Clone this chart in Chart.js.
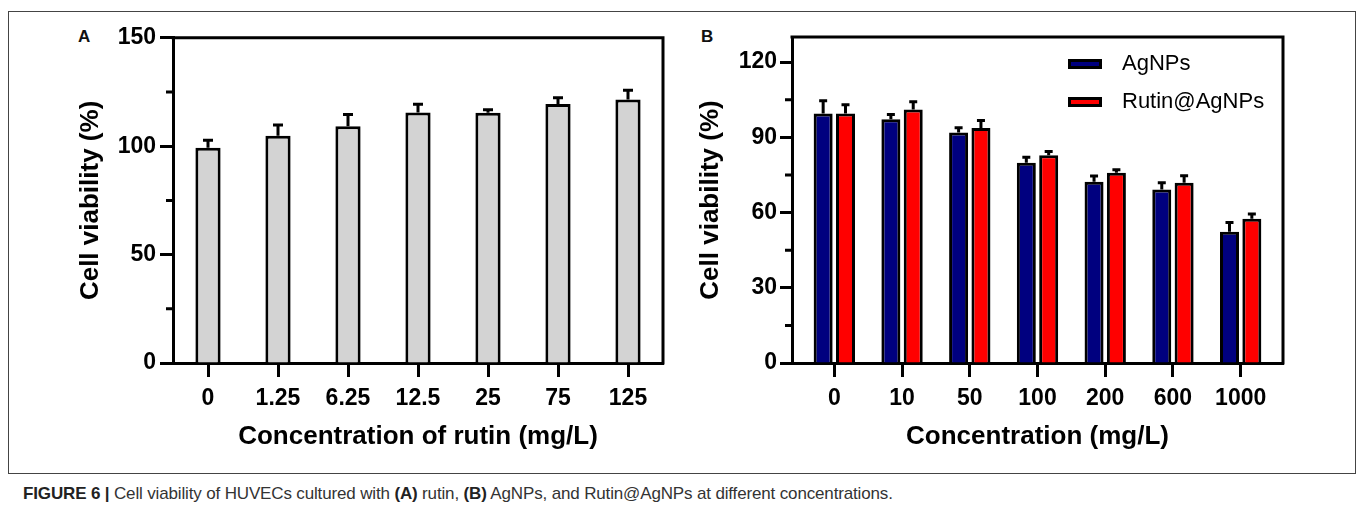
<!DOCTYPE html>
<html>
<head>
<meta charset="utf-8">
<script src="https://cdn.jsdelivr.net/npm/chart.js@4.4.1/dist/chart.umd.min.js"></script>
<style>
  body { margin: 0; background: #fff; width: 1357px; height: 513px; position: relative; overflow: hidden;
         font-family: 'Liberation Sans', Arial, sans-serif; }
  #frame { position: absolute; left: 8px; top: 11px; width: 1346px; height: 461px; border: 1px solid #444; }
  .wrap { position: absolute; }
  #wa { left: 60px; top: 20px; width: 620px; height: 440px; }
  #wb { left: 690px; top: 20px; width: 610px; height: 440px; }
  .lab { position: absolute; font-weight: bold; font-size: 17px; color: #111; }
  #caption { position: absolute; left: 23px; top: 484px; font-size: 17px; letter-spacing: -0.15px; color: #333; white-space: nowrap; }
  #caption b { color: #222; }
</style>
</head>
<body>
<div id="frame"></div>
<div class="lab" style="left:78px;top:27px;">A</div>
<div class="lab" style="left:701px;top:27px;">B</div>
<div class="wrap" id="wa"><canvas id="chartA" width="620" height="440"></canvas></div>
<div class="wrap" id="wb"><canvas id="chartB" width="610" height="440"></canvas></div>
<div id="caption"><b>FIGURE 6 |</b> Cell viability of HUVECs cultured with <b>(A)</b> rutin, <b>(B)</b> AgNPs, and Rutin@AgNPs at different concentrations.</div>

<script>
// panel A
const concA = ['0', '1.25', '6.25', '12.5', '25', '75', '125'];
const rutinMean = [99.3, 104.8, 109.2, 115.5, 115.4, 119.5, 121.5];
const rutinErr = [3.5, 5.0, 5.4, 3.8, 1.4, 2.8, 4.3];
const yTicksA = [0, 50, 100, 150];

// panel B
const concB = ['0', '10', '50', '100', '200', '600', '1000'];
const agMean = [99.5, 97.2, 91.9, 79.9, 72.3, 69.2, 52.3];
const agErr = [5.1, 1.9, 1.9, 2.1, 2.3, 2.7, 3.7];
const rutinAgMean = [99.5, 101.1, 93.7, 82.8, 75.9, 71.9, 57.5];
const rutinAgErr = [3.5, 3.1, 3.0, 1.5, 1.2, 2.8, 1.9];
const yTicksB = [0, 30, 60, 90, 120];

Chart.defaults.font.family = "'Liberation Sans', Arial, sans-serif";
Chart.defaults.color = '#000';

// upper error bars drawn on top of each bar
const errorBars = {
  id: 'errorBars',
  afterDatasetsDraw(chart, args, opts) {
    const ctx = chart.ctx;
    const y = chart.scales.y;
    ctx.save();
    ctx.strokeStyle = '#000';
    ctx.lineWidth = 3;
    chart.data.datasets.forEach((ds, di) => {
      const meta = chart.getDatasetMeta(di);
      meta.data.forEach((bar, i) => {
        const v = meta.controller.getParsed(i).y;
        const top = y.getPixelForValue(v + ds.errors[i]);
        ctx.beginPath();
        ctx.moveTo(bar.x, bar.y);
        ctx.lineTo(bar.x, top);
        ctx.moveTo(bar.x - opts.cap / 2, top);
        ctx.lineTo(bar.x + opts.cap / 2, top);
        ctx.stroke();
      });
    });
    ctx.restore();
  }
};

// top/right frame of the plot box + short minor ticks on the y axis
const axisFrame = {
  id: 'axisFrame',
  afterDraw(chart, args, opts) {
    const {ctx, chartArea: a} = chart;
    const y = chart.scales.y;
    ctx.save();
    ctx.strokeStyle = '#000';
    ctx.lineWidth = 3;
    ctx.beginPath();
    ctx.moveTo(a.left - 1.5, a.top);
    ctx.lineTo(a.right, a.top);
    ctx.lineTo(a.right, a.bottom + 1.5);
    const t = y.ticks.map(k => k.value);
    for (let i = 0; i < t.length - 1; i++) {
      const py = y.getPixelForValue((t[i] + t[i + 1]) / 2);
      ctx.moveTo(a.left - opts.minorLen, py);
      ctx.lineTo(a.left, py);
    }
    ctx.stroke();
    ctx.restore();
  }
};

const insideLegend = {
  id: 'insideLegend',
  afterDraw(chart, args, opts) {
    if (!opts.show) return;
    const {ctx, chartArea: a} = chart;
    ctx.save();
    chart.data.datasets.forEach((ds, i) => {
      const x = a.right - opts.right;
      const y = a.top + opts.top + i * opts.gap;
      ctx.fillStyle = ds.backgroundColor;
      ctx.fillRect(x, y, opts.boxW, opts.boxH);
      ctx.strokeStyle = '#000';
      ctx.lineWidth = 3;
      ctx.strokeRect(x + 1.5, y + 1.5, opts.boxW - 3, opts.boxH - 3);
      ctx.fillStyle = '#000';
      ctx.font = "22px 'Liberation Sans', Arial, sans-serif";
      ctx.textBaseline = 'middle';
      ctx.fillText(ds.label, x + opts.textGap, y + opts.boxH / 2);
    });
    ctx.restore();
  }
};

function axisStyle(tickLen) {
  return {
    grid: { offset: false, drawOnChartArea: false, tickLength: tickLen, tickWidth: 3, tickColor: '#000', color: '#000' },
    border: { display: true, color: '#000', width: 3 }
  };
}

new Chart(document.getElementById('chartA'), {
  type: 'bar',
  data: {
    labels: concA,
    datasets: [{
      label: 'Rutin',
      data: rutinMean,
      errors: rutinErr,
      backgroundColor: '#d3d3d3',
      borderColor: '#000',
      borderWidth: 3,
      categoryPercentage: 1,
      barPercentage: 0.36
    }]
  },
  options: {
    responsive: false,
    animation: false,
    layout: { padding: { left: 0, top: 17, right: 17, bottom: 0 } },
    plugins: {
      legend: { display: false },
      tooltip: { enabled: false },
      errorBars: { cap: 10 },
      axisFrame: { minorLen: 7 },
      insideLegend: { show: false }
    },
    scales: {
      x: {
        ...axisStyle(14),
        offset: true,
        ticks: { font: { size: 23, weight: 'bold' }, padding: 8, maxRotation: 0, autoSkip: false },
        title: { display: true, text: 'Concentration of rutin (mg/L)', font: { size: 26, weight: 'bold' }, padding: { top: 0, bottom: 8 } },
        afterFit(s) { s.height = 97; }
      },
      y: {
        ...axisStyle(13),
        min: 0, max: 150,
        afterBuildTicks(s) { s.ticks = yTicksA.map(v => ({ value: v })); },
        ticks: { font: { size: 23, weight: 'bold' }, padding: 4 },
        title: { display: true, text: 'Cell viability (%)', font: { size: 26, weight: 'bold' }, padding: { top: 15, bottom: 0 } },
        afterFit(s) { s.width = 113; }
      }
    }
  },
  plugins: [errorBars, axisFrame, insideLegend]
});

new Chart(document.getElementById('chartB'), {
  type: 'bar',
  data: {
    datasets: [{
      label: 'AgNPs',
      data: agMean.map((v, i) => ({ x: i, y: v })),
      errors: agErr,
      backgroundColor: '#00007f',
      borderColor: '#000',
      borderWidth: 3,
      categoryPercentage: 0.66,
      barPercentage: 0.85
    }, {
      label: 'Rutin@AgNPs',
      data: rutinAgMean.map((v, i) => ({ x: i, y: v })),
      errors: rutinAgErr,
      backgroundColor: '#ff0000',
      borderColor: '#000',
      borderWidth: 3,
      categoryPercentage: 0.66,
      barPercentage: 0.85
    }]
  },
  options: {
    responsive: false,
    animation: false,
    layout: { padding: { left: 0, top: 17, right: 17, bottom: 0 } },
    plugins: {
      legend: { display: false },
      tooltip: { enabled: false },
      errorBars: { cap: 8 },
      axisFrame: { minorLen: 7 },
      insideLegend: { show: true, right: 215, top: 22, gap: 38, boxW: 34, boxH: 10, textGap: 54 }
    },
    scales: {
      x: {
        ...axisStyle(14),
        type: 'linear',
        offset: false,
        min: -0.625, max: 6.625,
        afterBuildTicks(s) { s.ticks = concB.map((_, i) => ({ value: i })); },
        ticks: { font: { size: 23, weight: 'bold' }, padding: 8, maxRotation: 0, autoSkip: false,
                 callback: v => concB[v] },
        title: { display: true, text: 'Concentration (mg/L)', font: { size: 26, weight: 'bold' }, padding: { top: 0, bottom: 8 } },
        afterFit(s) { s.height = 97; }
      },
      y: {
        ...axisStyle(12),
        min: 0, max: 130,
        afterBuildTicks(s) { s.ticks = yTicksB.map(v => ({ value: v })); },
        ticks: { font: { size: 23, weight: 'bold' }, padding: 3 },
        title: { display: true, text: 'Cell viability (%)', font: { size: 26, weight: 'bold' }, padding: { top: 5, bottom: 0 } },
        afterFit(s) { s.width = 102; }
      }
    }
  },
  plugins: [errorBars, axisFrame, insideLegend]
});
</script>
</body>
</html>
